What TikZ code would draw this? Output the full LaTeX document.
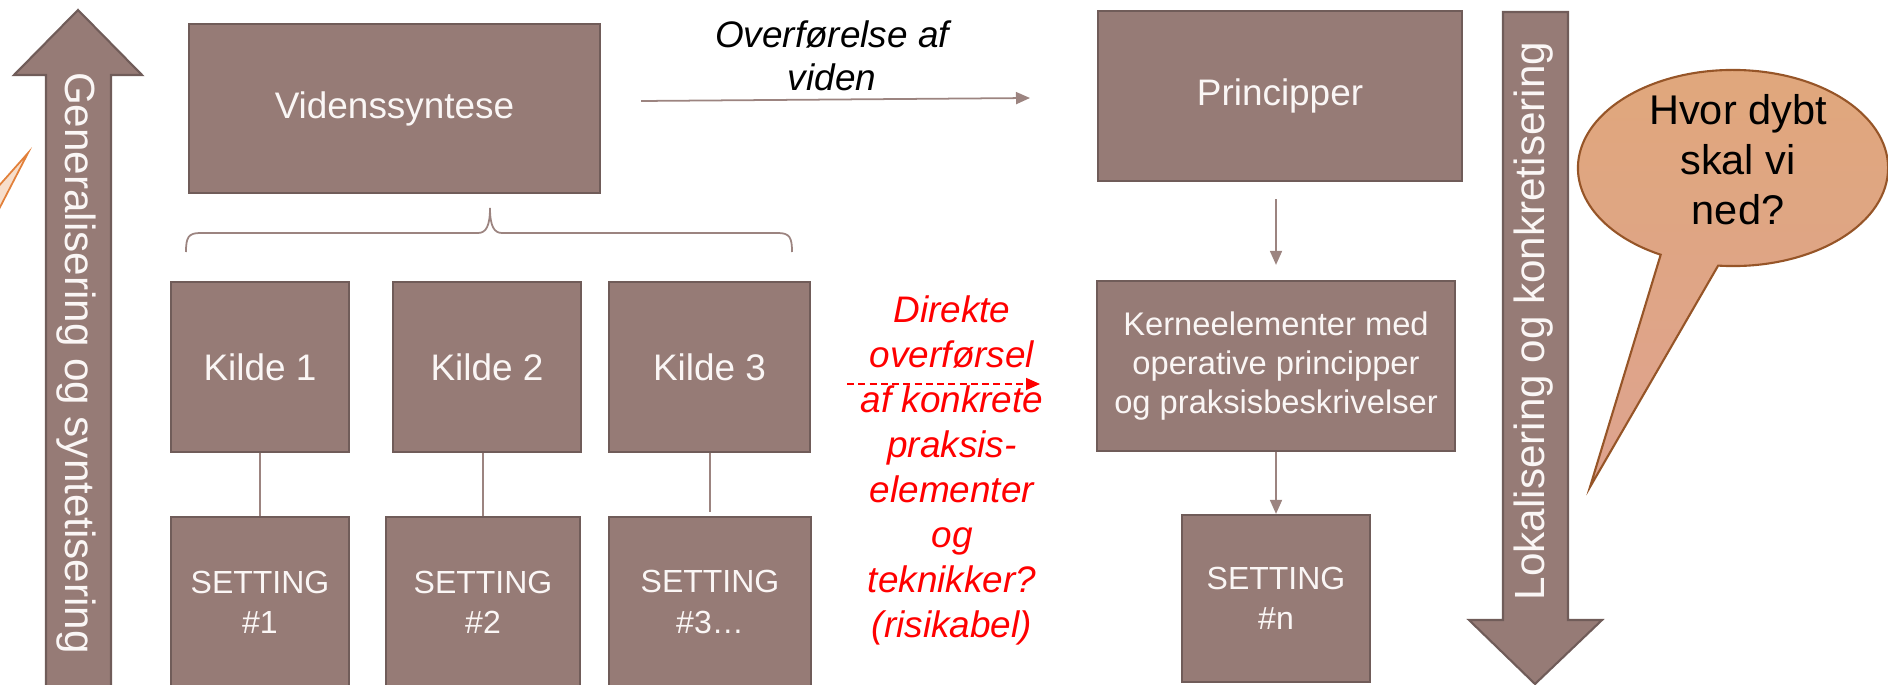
\documentclass[tikz,border=0pt]{standalone}
\usepackage{fontspec}
\setmainfont{Liberation Sans}
\usetikzlibrary{arrows.meta,calc}
\definecolor{boxfill}{RGB}{150,123,118}
\definecolor{boxline}{RGB}{112,92,89}
\definecolor{connc}{RGB}{156,132,128}
\definecolor{boxtext}{RGB}{250,246,245}
\definecolor{bubtop}{RGB}{224,167,124}
\definecolor{bubbot}{RGB}{222,163,143}
\definecolor{bubline}{RGB}{150,85,40}
\definecolor{slivfill}{RGB}{247,222,203}
\definecolor{slivline}{RGB}{226,128,58}
\begin{document}
\begin{tikzpicture}[x=0.01cm,y=-0.01cm,
  box/.style={draw=boxline, line width=0.6pt, fill=boxfill, text=boxtext,
    inner sep=0pt, align=center, minimum height=1.70cm},
  bigfont/.style={font=\fontsize{10.5}{12.6}\selectfont},
  setfont/.style={font=\fontsize{9.1}{11.4}\selectfont},
  link/.style={draw=connc, line width=0.5pt},
  arr/.style={link, -{Triangle[length=0.14cm,width=0.12cm]}},
  bigarrow/.style={fill=boxfill, draw=boxline, line width=0.6pt},
  vtext/.style={text=boxtext, font=\fontsize{12}{14}\selectfont, inner sep=0pt}
]
\useasboundingbox (0,0) rectangle (1888,685);

% left sliver of a speech bubble
\fill[slivfill] (-3,188) -- (28,153) -- (-3,213) -- cycle;
\draw[slivline, line width=0.5pt] (-3,188) -- (28,153) -- (-3,213);

% big arrows
\path[bigarrow] (46,700) -- (46,75) -- (14,75) -- (78,10) -- (142,75) -- (111,75) -- (111,700) -- cycle;
\node[vtext, rotate=-90] (gtext) at (76,363) {Generalisering og syntetisering};
\path[bigarrow] (1503,12) -- (1503,620) -- (1469,620) -- (1535,684) -- (1602,620) -- (1568,620) -- (1568,12) -- cycle;
\node[vtext, rotate=90] (ltext) at (1534,321) {Lokalisering og konkretisering};

% boxes
\node[box, bigfont, minimum width=4.11cm, minimum height=1.69cm] (v) at (394.5,108.5) {Videnssyntese};
\node[box, bigfont, minimum width=3.64cm] (p) at (1280,96) {Principper};
\node[box, bigfont, minimum width=1.78cm] (k1) at (260,367) {Kilde 1};
\node[box, bigfont, minimum width=1.88cm] (k2) at (487,367) {Kilde 2};
\node[box, bigfont, minimum width=2.01cm] (k3) at (709.5,367) {Kilde 3};
\node[box, setfont, minimum width=1.78cm] (s1) at (260,602) {SETTING\\\#1};
\node[box, setfont, minimum width=1.94cm] (s2) at (483,602) {SETTING\\\#2};
\node[box, setfont, minimum width=2.02cm] (s3) at (710,602) {SETTING\\\#3…};
\node[box, font=\fontsize{9.3}{11.1}\selectfont, minimum width=3.58cm] (kn) at (1276,366)
  {Kerneelementer med\\operative principper\\og praksisbeskrivelser};
\node[box, setfont, minimum width=1.88cm, minimum height=1.67cm] (sn) at (1276,598.5) {SETTING\\\#n};

% connectors
\draw[link] (s1.north |- k1.south) -- (s1.north);
\draw[link] (s2.north |- k2.south) -- (s2.north);
\draw[link, shorten >=0.04cm] (s3.north |- k3.south) -- (s3.north);
\draw[arr, shorten <=0.17cm, shorten >=0.15cm] (kn.north |- p.south) -- (kn.north);
\draw[arr] (kn.south) -- (sn.north);

% brace
\draw[link] (186,252) .. controls (186,238) and (188,233) .. (200,233) -- (478,233)
  .. controls (486,233) and (490,226) .. (490,208)
  .. controls (490,226) and (494,233) .. (502,233) -- (778,233)
  .. controls (790,233) and (792,238) .. (792,252);

% knowledge transfer arrow
\coordinate (o1) at (641,101);
\coordinate (o2) at (1030,98);
\draw[arr] (o1) -- (o2);
\node[font=\itshape\fontsize{10.5}{12.2}\selectfont, align=center] (otext) at (832,56) {Overførelse af\\viden};

% direct transfer (red)
\coordinate (d1) at (847,384);
\coordinate (d2) at (1040,384);
\draw[red, line width=0.5pt, dash pattern=on 2pt off 1.2pt, -{Triangle[length=0.14cm,width=0.12cm]}] (d1) -- (d2);
\node[text=red, font=\itshape\fontsize{10.5}{12.8}\selectfont, align=center] (dtext) at (952,470)
  {Direkte\\overførsel\\af konkrete\\praksis-\\elementer\\og\\teknikker?\\(risikabel)};

% speech bubble
\path[draw=bubline, line width=0.6pt, top color=bubtop, bottom color=bubbot]
  (1733,168) ++(264.5:1.55cm and 0.98cm)
  arc[start angle=264.5, end angle=602.2, x radius=1.55cm, y radius=0.98cm]
  -- (1590,487) -- cycle;
\node[font=\fontsize{11.8}{14.2}\selectfont, align=center] (q) at (1738,160) {Hvor dybt\\skal vi\\ned?};
\end{tikzpicture}
\end{document}
